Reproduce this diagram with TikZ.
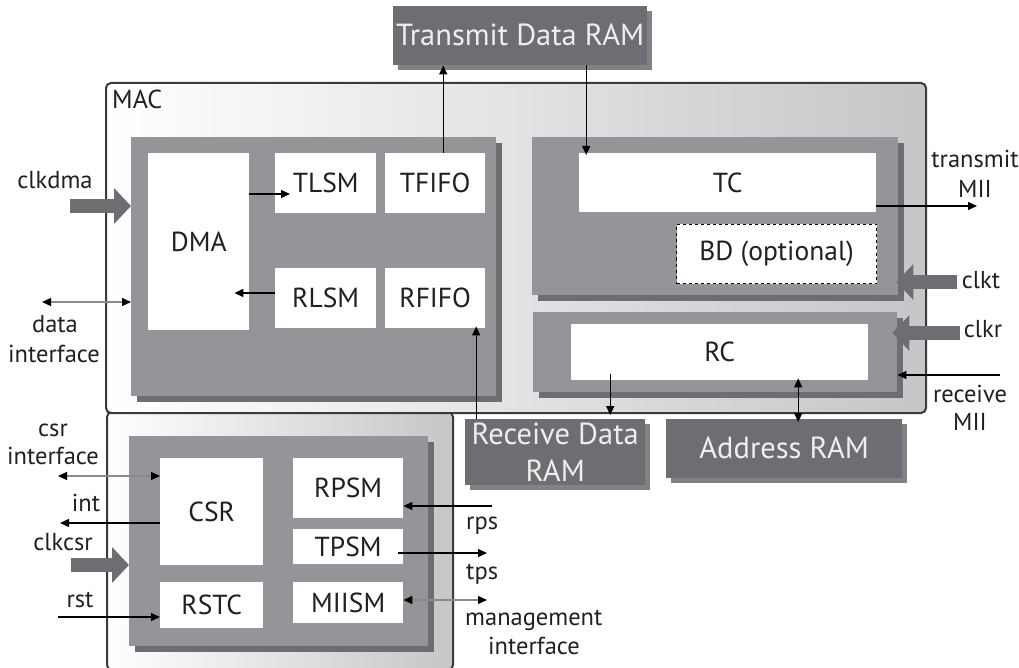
\documentclass[tikz,border=0pt]{standalone}
\usepackage{fontspec}
\setmainfont{PT Sans}
\usetikzlibrary{arrows.meta,shadows}
\definecolor{grp}{HTML}{939598}
\definecolor{grpsh}{HTML}{6D6E71}
\definecolor{ramfill}{HTML}{6D6E71}
\definecolor{ramsh}{HTML}{818285}
\definecolor{thickc}{HTML}{6D6E71}
\definecolor{gradR}{HTML}{C5C6C8}
\definecolor{bord}{HTML}{3A3A3C}
\definecolor{ink}{HTML}{231F20}
\definecolor{ramtxt}{HTML}{EEEEEF}
\definecolor{lightln}{HTML}{8A8A8C}
\newcommand\fBox{\fontsize{27.5}{31}\selectfont}
\newcommand\fLbl{\fontsize{24.5}{29}\selectfont}
\newcommand\fRam{\fontsize{30.5}{37}\selectfont}
\begin{document}
\begin{tikzpicture}[x=1pt,y=-1pt,
  outerbox/.style={draw=bord, line width=2pt, rounded corners=5pt, left color=white, right color=gradR, anchor=north west, inner sep=0pt},
  grpbox/.style={fill=grp, anchor=north west, inner sep=0pt,
     drop shadow={shadow xshift=6pt, shadow yshift=-6pt, opacity=1, fill=grpsh}},
  wbox/.style={fill=white, anchor=north west, inner sep=0pt, font=\fBox, text=ink},
  rambox/.style={fill=ramfill, anchor=north west, inner sep=0pt, font=\fRam, text=ramtxt, align=center,
     drop shadow={shadow xshift=5pt, shadow yshift=-5pt, opacity=1, fill=ramsh}},
  lbl/.style={font=\fLbl, text=ink, inner sep=0pt, anchor=base},
  arr/.style={draw=black, line width=1.3pt, -{Triangle[length=9pt,width=8pt]}},
  biarr/.style={draw=black, line width=1.3pt, {Triangle[length=9pt,width=8pt]}-{Triangle[length=9pt,width=8pt]}},
  ltbiarr/.style={draw=lightln, line width=1.2pt, {Triangle[length=9pt,width=8pt,color=black]}-{Triangle[length=9pt,width=8pt,color=black]}},
  thickarr/.style={draw=thickc, line width=14pt, -{Triangle[length=17pt,width=35pt]}}
]
\useasboundingbox (0,0) rectangle (1019,668);

% outer boxes
\node[outerbox, minimum width=346pt, minimum height=258pt] (csrouter) at (106,411) {};
\node[outerbox, minimum width=820pt, minimum height=330pt] (mac) at (105,82) {};
\node[lbl, anchor=base west, font=\fontsize{26}{29}\selectfont] (maclbl) at (112,109) {MAC};

% group boxes
\node[grpbox, minimum width=365pt, minimum height=259pt] (dmagrp) at (131,137) {};
\node[grpbox, minimum width=366pt, minimum height=158pt] (tcgrp) at (532,137) {};
\node[grpbox, minimum width=364pt, minimum height=80pt] (rcgrp) at (533,312) {};
\node[grpbox, minimum width=299pt, minimum height=210pt] (csrgrp) at (129,436) {};

% white boxes
\node[wbox, minimum width=101pt, minimum height=177pt] (dma) at (148,153) {DMA};
\node[wbox, minimum width=101pt, minimum height=60pt] (tlsm) at (275,153) {TLSM};
\node[wbox, minimum width=100pt, minimum height=60pt] (tfifo) at (385,153) {TFIFO};
\node[wbox, minimum width=101pt, minimum height=60pt] (rlsm) at (275,268) {RLSM};
\node[wbox, minimum width=100pt, minimum height=60pt] (rfifo) at (385,268) {RFIFO};
\node[wbox, minimum width=297pt, minimum height=59pt] (tc) at (579,153) {TC};
\node[wbox, draw=black, line width=1pt, dashed, minimum width=200pt, minimum height=59pt] (bd) at (676,224) {BD (optional)};
\node[wbox, minimum width=297pt, minimum height=56pt] (rc) at (571,324) {RC};
\node[wbox, minimum width=103pt, minimum height=107pt] (csr) at (160,458) {CSR};
\node[wbox, minimum width=103pt, minimum height=46pt] (rstcb) at (160,582) {RSTC};
\node[wbox, minimum width=110pt, minimum height=60pt] (rpsm) at (293,458) {RPSM};
\node[wbox, minimum width=110pt, minimum height=35pt] (tpsm) at (293,529) {TPSM};
\node[wbox, minimum width=110pt, minimum height=41pt] (miism) at (293,582) {MIISM};

% RAM boxes
\node[rambox, minimum width=254pt, minimum height=59pt] (txram) at (393,6) {\raisebox{3pt}{Transmit Data RAM}};
\node[rambox, minimum width=180pt, minimum height=66pt] (rxram) at (465,419) {Receive Data\\RAM};
\node[rambox, minimum width=236pt, minimum height=59pt] (addrram) at (666,419) {\raisebox{3pt}{Address RAM}};

% helper coordinates
\coordinate (a1) at ([xshift=8pt]tfifo.north);
\coordinate (a2) at ([xshift=66pt]txram.south);
\coordinate (y194) at (0,194);
\coordinate (y293) at (0,293);
\coordinate (a5) at ([xshift=41pt]rfifo.south);
\coordinate (a6) at ([xshift=-109.5pt]rc.south);
\coordinate (a7) at ([xshift=78.5pt]rc.south);
\coordinate (txmii) at (977,206);
\coordinate (rxmii) at (1000,375);
\coordinate (di) at (42,302);
\coordinate (ci) at (58,476);
\coordinate (intc) at (60,523);
\coordinate (rstc) at (58,617);
\coordinate (rpsc) at (492,506);
\coordinate (tpsc) at (487,553);
\coordinate (mgc) at (487,600);
\coordinate (clkdmaS) at (70,206);
\coordinate (clkcsrS) at (71,565);
\coordinate (clktS) at (957,282);
\coordinate (clkrS) at (960,333);

% thin connectors
\draw[arr] (a1) -- (a1 |- txram.south);
\draw[arr, shorten >=-2pt] (a2) -- (a2 |- tc.north);
\draw[arr, shorten >=-15pt] (dma.east |- y194) -- (tlsm.west |- y194);
\draw[arr, shorten >=-15pt] (rlsm.west |- y293) -- (dma.east |- y293);
\draw[arr, shorten >=-2pt] (a5 |- rxram.north) -- (a5);
\draw[arr, shorten <=-6pt, shorten >=4pt] (a6) -- (a6 |- rxram.north);
\draw[biarr, shorten <=-2pt, shorten >=-3pt] (a7) -- (a7 |- addrram.north);
\draw[arr] (tc.east |- txmii) -- (txmii);
\draw[arr] (rxmii) -- (rcgrp.east |- rxmii);
\draw[ltbiarr] (di) -- (dmagrp.west |- di);
\draw[ltbiarr] (ci) -- (csr.west |- ci);
\draw[arr] (csr.west |- intc) -- (intc);
\draw[arr] (rstc) -- (rstcb.west |- rstc);
\draw[arr] (rpsc) -- (rpsm.east |- rpsc);
\draw[arr, shorten <=-5pt] (tpsm.east |- tpsc) -- (tpsc);
\draw[ltbiarr] (miism.east |- mgc) -- (mgc);

% thick clock arrows
\draw[thickarr] (clkdmaS) -- (dmagrp.west |- clkdmaS);
\draw[thickarr] (clkcsrS) -- (csrgrp.west |- clkcsrS);
\draw[thickarr, shorten >=-2pt] (clktS) -- (tcgrp.east |- clktS);
\draw[thickarr, shorten >=-5pt] (clkrS) -- (rcgrp.east |- clkrS);

% labels
\node[lbl] (l1) at (55,189) {clkdma};
\node[lbl] (l2) at (55,332) {data};
\node[lbl] (l3) at (54,362) {interface};
\node[lbl] (l4) at (53,436) {csr};
\node[lbl] (l5) at (53,464) {interface};
\node[lbl] (l6) at (86,511) {int};
\node[lbl] (l7) at (63,550) {clkcsr};
\node[lbl] (l8) at (80,607) {rst};
\node[lbl] (l9) at (975,168) {transmit};
\node[lbl] (l10) at (975,198) {MII};
\node[lbl] (l11) at (981,288) {clkt};
\node[lbl] (l12) at (983,337) {clkr};
\node[lbl] (l13) at (970,402) {receive};
\node[lbl] (l14) at (970,430) {MII};
\node[lbl, anchor=base west] (l15) at (466,529) {rps};
\node[lbl, anchor=base west] (l16) at (466,579) {tps};
\node[lbl, anchor=base west] (l17) at (465,625) {management};
\node[lbl] (l18) at (534,654) {interface};
\end{tikzpicture}
\end{document}
